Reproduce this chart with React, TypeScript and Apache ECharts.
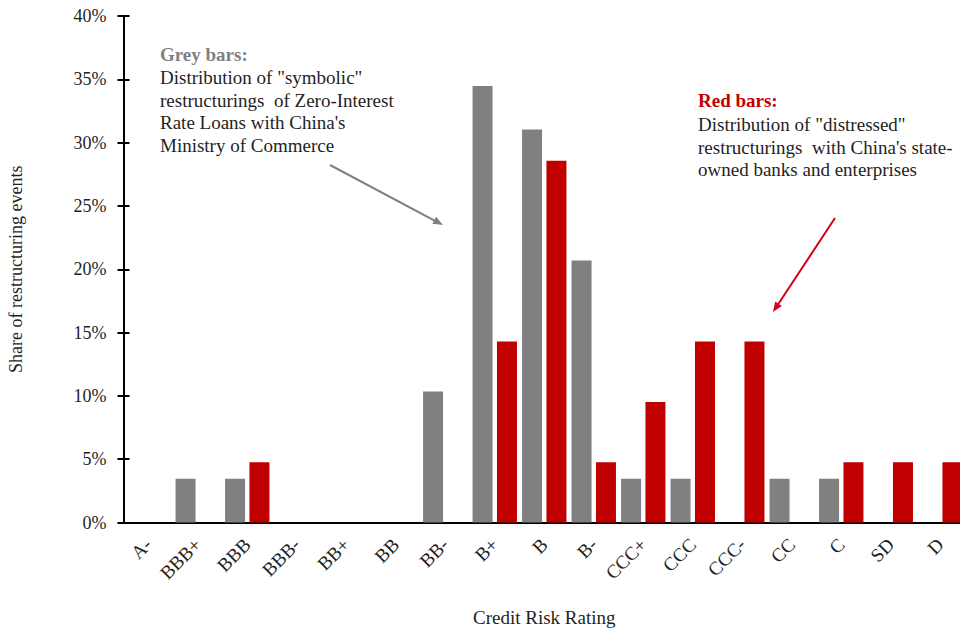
import React, { useEffect, useRef } from "react";
import * as echarts from "echarts";

const categories = ["A-", "BBB+", "BBB", "BBB-", "BB+", "BB", "BB-", "B+", "B", "B-", "CCC+", "CCC", "CCC-", "CC", "C", "SD", "D"];
const symbolicShare = [0, 3.45, 3.45, 0, 0, 0, 10.34, 34.48, 31.03, 20.69, 3.45, 3.45, 0, 3.45, 3.45, 0, 0];
const distressedShare = [0, 0, 4.76, 0, 0, 0, 0, 14.29, 28.57, 4.76, 9.52, 14.29, 14.29, 0, 4.76, 4.76, 4.76];
const yMin = 0;
const yMax = 40;
const yStep = 5;

const greyNoteTitle = "Grey bars:";
const greyNoteBody = ['Distribution of "symbolic"', "restructurings  of Zero-Interest", "Rate Loans with China's", "Ministry of Commerce"];
const redNoteTitle = "Red bars:";
const redNoteBody = ['Distribution of "distressed"', "restructurings  with China's state-", "owned banks and enterprises"];

const FONT = "'Times New Roman', 'Liberation Serif', serif";
const GREY = "#808080";
const RED = "#c00000";
const TEXT = "#1f1f1f";

export default function App() {
  const ref = useRef<HTMLDivElement>(null);
  useEffect(() => {
    if (!ref.current) return;
    const chart = echarts.init(ref.current, undefined, { renderer: "svg" });
    const yAxisCommon = {
      type: "value" as const,
      min: yMin,
      max: yMax,
      interval: yStep,
      splitLine: { show: false },
    };
    chart.setOption({
      animation: false,
      backgroundColor: "#ffffff",
      grid: { left: 123.5, top: 16, width: 841.5, bottom: 106.5, containLabel: false, outerBoundsMode: "none" },
      xAxis: {
        type: "category",
        data: categories,
        axisTick: { show: false },
        axisLine: { lineStyle: { color: "#000", width: 2 } },
        axisLabel: {
          interval: 0,
          rotate: 45,
          margin: 19,
          fontFamily: FONT,
          fontSize: 19,
          color: TEXT,
        },
        name: "Credit Risk Rating",
        nameLocation: "middle",
        nameGap: 85,
        nameTextStyle: { fontFamily: FONT, fontSize: 19, color: TEXT },
      },
      yAxis: [
        {
          ...yAxisCommon,
          axisLine: { show: true, lineStyle: { color: "#000", width: 2 } },
          axisTick: { show: true, inside: false, length: 6, lineStyle: { color: "#000", width: 2 } },
          axisLabel: {
            formatter: "{value}%",
            margin: 17,
            fontFamily: FONT,
            fontSize: 18,
            color: TEXT,
          },
          name: "Share of restructuring events",
          nameLocation: "middle",
          nameGap: 99,
          nameTextStyle: { fontFamily: FONT, fontSize: 18, color: TEXT },
        },
        {
          ...yAxisCommon,
          position: "left",
          axisLine: { show: false },
          axisTick: { show: true, inside: true, length: 6, lineStyle: { color: "#000", width: 2 } },
          axisLabel: { show: false },
        },
      ],
      series: [
        {
          name: "Symbolic",
          type: "bar",
          data: symbolicShare,
          barWidth: 20,
          barGap: "22%",
          itemStyle: { color: GREY },
        },
        {
          name: "Distressed",
          type: "bar",
          data: distressedShare,
          barWidth: 20,
          barGap: "22%",
          itemStyle: { color: RED },
        },
      ],
      graphic: [
        {
          type: "text",
          left: 160,
          top: 43.5,
          style: { text: greyNoteTitle, fontFamily: FONT, fontSize: 19, fontWeight: "bold", fill: GREY, lineHeight: 22.5 },
        },
        {
          type: "text",
          left: 160,
          top: 66.5,
          style: { text: greyNoteBody.join("\n"), fontFamily: FONT, fontSize: 19, fill: TEXT, lineHeight: 22.5 },
        },
        {
          type: "line",
          shape: { x1: 330, y1: 165, x2: 435, y2: 220.8 },
          style: { stroke: GREY, lineWidth: 2 },
        },
        {
          type: "polygon",
          shape: { points: [[443, 225], [432.3, 223.8], [436.1, 216.8]] },
          style: { fill: GREY },
        },
        {
          type: "text",
          left: 698,
          top: 89.5,
          style: { text: redNoteTitle, fontFamily: FONT, fontSize: 19, fontWeight: "bold", fill: RED, lineHeight: 22.5 },
        },
        {
          type: "text",
          left: 698,
          top: 113.5,
          style: { text: redNoteBody.join("\n"), fontFamily: FONT, fontSize: 19, fill: TEXT, lineHeight: 22.5 },
        },
        {
          type: "line",
          shape: { x1: 835, y1: 218, x2: 778, y2: 304.5 },
          style: { stroke: "#d0021b", lineWidth: 2 },
        },
        {
          type: "polygon",
          shape: { points: [[773, 312], [781.8, 305.9], [775.2, 301.4]] },
          style: { fill: "#d0021b" },
        },
      ],
    });
    return () => chart.dispose();
  }, []);
  return (
    <div
      ref={ref}
      style={{ position: "absolute", left: 0, top: 0, width: 960, height: 629, background: "#fff" }}
    />
  );
}
